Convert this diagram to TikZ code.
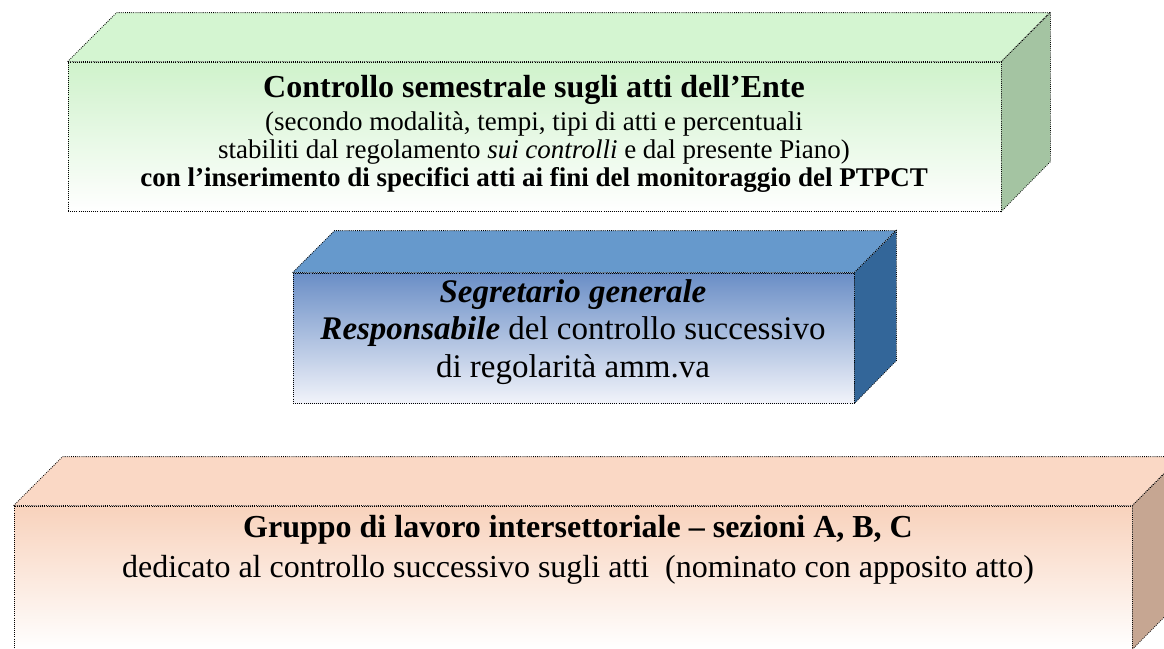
\documentclass[tikz,border=0pt]{standalone}
\usepackage{fontspec}
\setmainfont{Liberation Serif}
\usetikzlibrary{positioning}

\definecolor{gtop}{HTML}{D4F5D1}
\definecolor{gside}{HTML}{A4C4A2}
\definecolor{gfront}{HTML}{CFF2CB}
\definecolor{btop}{HTML}{6699CC}
\definecolor{bside}{HTML}{336699}
\definecolor{bfront}{HTML}{6A8EC6}
\definecolor{bpale}{HTML}{F1F3FA}
\definecolor{otop}{HTML}{FAD8C5}
\definecolor{oside}{HTML}{C6A692}
\definecolor{ofront}{HTML}{F8D2BC}

\tikzset{
  dots/.style={line width=0.8pt, dash pattern=on 0.8pt off 1.3pt},
  face/.style={draw, dots, inner sep=0pt},
}

\begin{document}
\begin{tikzpicture}[x=1pt, y=-1pt]
        \clip (0, 0) rectangle (1164, 648);

        % verde: controllo semestrale
        \pgfmathsetmacro{\depthg}{49}
        \node[face, minimum width=933pt, minimum height=149pt,
              top color=gfront, bottom color=white] (ente) at (534.5, 136.5) {};
        \draw[dots, fill=gtop] (ente.north west) -- ++(\depthg, -\depthg)
            -- ++(933, 0) -- (ente.north east) -- cycle;
        \draw[dots, fill=gside] (ente.north east) -- ++(\depthg, -\depthg)
            -- ++(0, 149) -- (ente.south east) -- cycle;
        \node[align=center, inner sep=0pt, font=\fontsize{27}{28}\selectfont] (entetxt) at (534, 134)
            {{\fontsize{32}{33}\selectfont\bfseries Controllo semestrale sugli atti dell’Ente}\\[5pt]
             (secondo modalità, tempi, tipi di atti e percentuali\\
             stabiliti dal regolamento \textit{sui controlli} e dal presente Piano)\\
             \textbf{con l’inserimento di specifici atti ai fini del monitoraggio del PTPCT}};

        % blu: segretario generale
        \pgfmathsetmacro{\depthb}{42}
        \node[face, minimum width=561pt, minimum height=130pt,
              top color=bfront, bottom color=bpale] (segr) at (573.5, 338) {};
        \draw[dots, fill=btop] (segr.north west) -- ++(\depthb, -\depthb)
            -- ++(561, 0) -- (segr.north east) -- cycle;
        \draw[dots, fill=bside] (segr.north east) -- ++(\depthb, -\depthb)
            -- ++(0, 130) -- (segr.south east) -- cycle;
        \node[align=center, inner sep=0pt, font=\fontsize{33}{37.5}\selectfont] (segrtxt) at (573, 332)
            {\textbf{\textit{Segretario generale}}\\
             \textbf{\textit{Responsabile}} del controllo successivo\\
             di regolarità amm.va};

        % arancio: gruppo di lavoro
        \pgfmathsetmacro{\deptho}{49}
        \node[face, minimum width=1118pt, minimum height=143pt,
              top color=ofront, bottom color=white] (gruppo) at (573, 577.5) {};
        \draw[dots, fill=otop] (gruppo.north west) -- ++(\deptho, -\deptho)
            -- ++(1118, 0) -- (gruppo.north east) -- cycle;
        \draw[dots, fill=oside] (gruppo.north east) -- ++(\deptho, -\deptho)
            -- ++(0, 143) -- (gruppo.south east) -- cycle;
        \node[align=center, inner sep=0pt, font=\fontsize{32}{40}\selectfont] (gruppotxt) at (578, 550)
            {\textbf{Gruppo di lavoro intersettoriale – sezioni A, B, C}\\
             dedicato al controllo successivo sugli atti \ (nominato con apposito atto)};
\end{tikzpicture}
\end{document}
